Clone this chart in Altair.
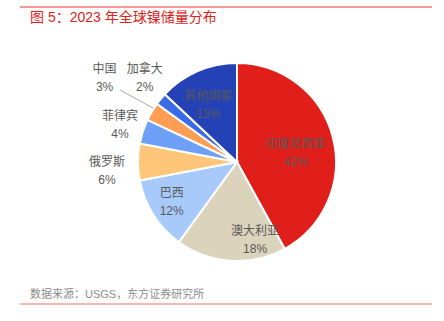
import altair as alt
import pandas as pd

names = ["印度尼西亚", "澳大利亚", "巴西", "俄罗斯", "菲律宾", "中国", "加拿大", "其他国家"]
shares = [42, 18, 12, 6, 4, 3, 2, 13]
colors = ["#E01F1A", "#DCD3BD", "#A8CAFB", "#FFC679", "#6FA0F7", "#FF9D55", "#3A6AE8", "#2441B5"]

title_text = "图 5：2023 年全球镍储量分布"
source_text = "数据来源：USGS，东方证券研究所"

df = pd.DataFrame({
    "name": names,
    "share": shares,
    "idx": list(range(len(names))),
    "label": [f"{n}\n{s}%" for n, s in zip(names, shares)],
})

W, H = 444, 321
CX, CY, R = 237, 162, 99
FONT = "Liberation Sans, Noto Sans CJK SC"

base = alt.Chart(df).encode(
    theta=alt.Theta("share:Q", stack=True),
    order=alt.Order("idx:Q"),
    x=alt.value(CX),
    y=alt.value(CY),
)

pie = base.mark_arc(radius=R, stroke="white", strokeWidth=2).encode(
    color=alt.Color("name:N", scale=alt.Scale(domain=names, range=colors), legend=None)
)

# (name, radius, dx, dy)
label_specs = [
    ("印度尼西亚", 60, 1, -3),
    ("澳大利亚", 78, 23, -9),
    ("巴西", 75, -2, -9),
    ("其他国家", 62, -4, -9),
    ("俄罗斯", 130, 0, 0),
    ("菲律宾", 123, 0, -8),
    ("加拿大", 125, 4, -13),
    ("中国", 155, 1, -14),
]

layers = [pie]
for nm, r, dx, dy in label_specs:
    layers.append(
        base.transform_calculate(
            lab=f"datum.name === '{nm}' ? datum.label : ''"
        ).mark_text(
            radius=r, dx=dx, dy=dy, font=FONT, fontSize=12, color="#595959",
            lineBreak="\n", lineHeight=18, align="center", baseline="middle",
        ).encode(text="lab:N")
    )

anno = alt.Chart(pd.DataFrame({"a": [0]}))

leader = anno.mark_rule(color="#AAAAAA", strokeWidth=1).encode(
    x=alt.value(120), y=alt.value(90), x2=alt.value(153), y2=alt.value(108)
)
top_line = anno.mark_rule(color="#E8322B", strokeWidth=1).encode(
    x=alt.value(20), x2=alt.value(432), y=alt.value(7)
)
bottom_line = anno.mark_rule(color="#F4A09A", strokeWidth=1.5).encode(
    x=alt.value(20), x2=alt.value(432), y=alt.value(304)
)
title = anno.mark_text(
    font=FONT, fontSize=14, fontWeight="normal", color="#E0201B", align="left", baseline="middle"
).encode(x=alt.value(30), y=alt.value(18), text=alt.value(title_text))
source = anno.mark_text(
    font=FONT, fontSize=11, color="#8C8C8C", align="left", baseline="middle"
).encode(x=alt.value(30), y=alt.value(295), text=alt.value(source_text))

chart = alt.layer(*layers, leader, top_line, bottom_line, title, source).properties(
    width=W, height=H, padding=0, autosize=alt.AutoSizeParams(type="none")
).configure_view(stroke=None)

chart.save("out.html", embed_options={"renderer": "svg", "actions": False})
